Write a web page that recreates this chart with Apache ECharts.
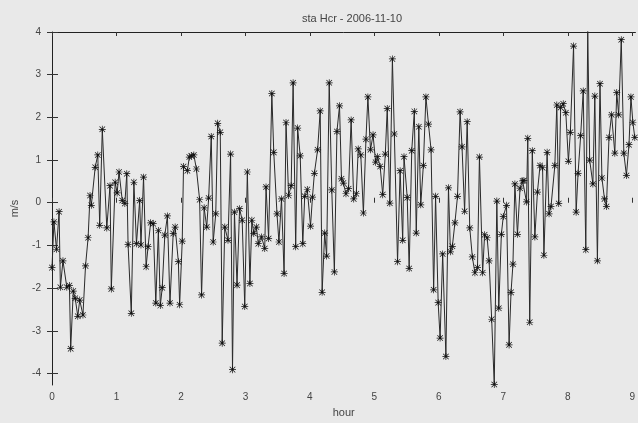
<!DOCTYPE html>
<html>
<head>
<meta charset="utf-8">
<script src="https://cdn.jsdelivr.net/npm/echarts@6/dist/echarts.min.js"></script>
<style>
html,body{margin:0;padding:0;background:#e9e9e9;}
#chart{width:638px;height:423px;}
</style>
</head>
<body>
<div id="chart"></div>
<script>
var titleText = 'sta Hcr - 2006-11-10';
var xName = 'hour';
var yName = 'm/s';
var xTicks = [0,1,2,3,4,5,6,7,8,9];
var yTicks = [-4,-3,-2,-1,0,1,2,3,4];

var hours = [
0.00,0.03,0.07,0.11,0.13,0.17,0.23,0.27,0.29,0.33,0.36,0.40,0.43,0.48,0.52,0.56,0.59,0.61,0.67,0.71,
0.74,0.78,0.85,0.90,0.92,0.98,1.01,1.04,1.09,1.13,1.16,1.18,1.23,1.27,1.31,1.36,1.38,1.42,1.46,1.49,
1.53,1.57,1.61,1.65,1.68,1.71,1.75,1.79,1.83,1.88,1.91,1.96,1.98,2.02,2.04,2.10,2.13,2.16,2.20,2.24,
2.29,2.32,2.36,2.40,2.43,2.47,2.50,2.54,2.57,2.61,2.64,2.68,2.73,2.77,2.80,2.83,2.87,2.91,2.95,2.99,
3.03,3.07,3.10,3.13,3.17,3.20,3.25,3.30,3.32,3.36,3.41,3.44,3.49,3.52,3.56,3.60,3.63,3.67,3.71,3.74,
3.78,3.81,3.85,3.89,3.92,3.96,4.01,4.04,4.07,4.12,4.16,4.19,4.23,4.26,4.30,4.34,4.38,4.42,4.46,4.49,
4.52,4.56,4.60,4.64,4.68,4.72,4.75,4.79,4.83,4.87,4.90,4.94,4.98,5.02,5.05,5.09,5.13,5.17,5.20,5.24,
5.28,5.31,5.36,5.40,5.44,5.46,5.51,5.54,5.58,5.62,5.65,5.69,5.72,5.76,5.80,5.84,5.88,5.92,5.95,5.99,
6.02,6.06,6.11,6.15,6.18,6.21,6.25,6.29,6.33,6.36,6.40,6.44,6.48,6.52,6.56,6.60,6.63,6.68,6.71,6.75,
6.78,6.82,6.86,6.90,6.93,6.97,7.00,7.05,7.09,7.12,7.15,7.18,7.22,7.26,7.30,7.32,7.36,7.38,7.41,7.45,
7.49,7.53,7.57,7.61,7.63,7.68,7.71,7.74,7.80,7.83,7.86,7.89,7.93,7.97,8.01,8.04,8.09,8.13,8.16,8.20,
8.24,8.28,8.31,8.34,8.39,8.42,8.46,8.50,8.53,8.57,8.60,8.64,8.68,8.73,8.76,8.79,8.83,8.87,8.91,8.95,
8.98,9.01,9.04
];

var speed = [
-1.52,-0.45,-1.09,-0.21,-1.98,-1.36,-1.98,-1.94,-3.42,-2.07,-2.24,-2.66,-2.28,-2.63,-1.48,-0.82,0.17,-0.06,0.83,1.12,
-0.53,1.72,-0.59,0.40,-2.02,0.48,0.23,0.72,0.05,-0.02,0.68,-0.98,-2.59,0.48,-0.96,0.05,-0.99,0.60,-1.50,-1.03,
-0.47,-0.49,-2.35,-0.65,-2.41,-1.99,-0.76,-0.31,-2.35,-0.72,-0.57,-1.38,-2.39,-0.90,0.85,0.75,1.07,1.10,1.12,0.79,
0.07,-2.16,-0.12,-0.57,0.11,1.55,-0.92,-0.26,1.86,1.65,-3.29,-0.57,-0.88,1.14,-3.91,-0.22,-1.93,-0.14,-0.41,-2.43,
0.72,-1.89,-0.41,-0.72,-0.57,-0.96,-0.80,-1.07,0.37,-0.84,2.56,1.18,-0.26,-0.92,0.09,-1.66,1.88,0.17,0.40,2.81,
-1.03,1.75,1.10,-0.96,0.15,0.31,-0.55,0.13,0.69,1.24,2.15,-2.10,-0.71,-1.25,2.81,0.30,-1.62,1.67,2.27,0.56,
0.46,0.21,0.33,1.94,0.09,0.21,1.26,1.12,-0.24,1.49,2.48,1.24,1.59,0.95,1.08,0.85,0.19,1.14,2.21,-0.01,
3.37,1.61,-1.38,0.75,-0.88,1.08,0.12,-1.54,1.22,2.14,-0.71,1.78,-0.05,0.87,2.48,1.84,1.24,-2.04,0.15,-2.34,
-3.17,-1.20,-3.60,0.35,-1.15,-1.02,-0.47,0.15,2.13,1.31,-0.20,1.90,-0.59,-1.27,-1.64,-1.52,1.07,-1.64,-0.75,-0.82,
-1.36,-2.73,-4.26,0.04,-2.47,-0.74,-0.32,-0.06,-3.33,-2.10,-1.44,0.44,-0.74,0.34,0.51,0.52,0.02,1.51,-2.80,1.22,
-0.80,0.25,0.87,0.82,-1.23,1.18,-0.26,-0.09,0.87,2.29,-0.02,2.23,2.32,2.11,0.97,1.65,3.67,-0.22,0.69,1.57,
2.62,-1.10,4.02,1.00,0.44,2.50,-1.36,2.79,0.58,0.09,-0.09,1.53,2.06,1.16,2.58,2.06,3.82,1.16,0.64,1.36,
2.48,1.88,1.53
];

var seriesData = hours.map(function(h, i){ return [h, speed[i]]; });

var asterisk = 'path://M4.5 0H5.5V10H4.5Z M0 4.5H10V5.5H0Z M0.7 1.4L1.4 0.7L9.3 8.6L8.6 9.3Z M8.6 0.7L9.3 1.4L1.4 9.3L0.7 8.6Z';

var txt = '#444';
var fontFam = 'Liberation Sans, DejaVu Sans, sans-serif';

var chart = echarts.init(document.getElementById('chart'), null, {renderer:'canvas'});
chart.setOption({
  backgroundColor: '#e9e9e9',
  animation: false,
  title: {
    text: titleText,
    left: 347, top: 8, textAlign: 'center',
    textStyle: {fontSize: 11, fontWeight: 'normal', color: txt, fontFamily: fontFam}
  },
  grid: {left: 52, right: 2, top: 32, bottom: 36, containLabel: false},
  xAxis: [{
    type: 'value', min: 0, max: 9.05, position: 'bottom',
    name: xName, nameLocation: 'middle', nameGap: 22,
    nameTextStyle: {fontSize: 11, color: txt, fontFamily: fontFam},
    axisLine: {show: false},
    axisTick: {show: true, inside: true, length: 5, customValues: xTicks, lineStyle: {color: '#333'}},
    axisLabel: {show: true, customValues: xTicks, margin: 7, fontSize: 10, color: txt, fontFamily: fontFam},
    splitLine: {show: false}
  }, {
    type: 'value', min: 0, max: 9.05, position: 'top',
    axisLine: {show: true, onZero: false, lineStyle: {color: '#222', width: 1}},
    axisTick: {show: true, inside: true, length: 4, customValues: xTicks, lineStyle: {color: '#333'}},
    axisLabel: {show: false},
    splitLine: {show: false}
  }],
  yAxis: [{
    type: 'value', min: -4.27, max: 4, position: 'left',
    name: yName, nameLocation: 'middle', nameGap: 32, nameRotate: 90,
    nameTextStyle: {fontSize: 11, color: txt, fontFamily: fontFam},
    axisLine: {show: true, onZero: false, lineStyle: {color: '#222', width: 1}},
    axisTick: {show: true, inside: true, length: 6, customValues: yTicks, lineStyle: {color: '#333'}},
    axisLabel: {show: true, customValues: yTicks, margin: 11, fontSize: 10, color: txt, fontFamily: fontFam},
    splitLine: {show: false}
  }, {
    type: 'value', min: -4.27, max: 4, position: 'right',
    axisLine: {show: false},
    axisTick: {show: true, inside: true, length: 5, customValues: yTicks, lineStyle: {color: '#333'}},
    axisLabel: {show: false},
    splitLine: {show: false}
  }],
  series: [{
    type: 'line',
    xAxisIndex: 0, yAxisIndex: 0,
    data: seriesData,
    symbol: asterisk,
    symbolSize: 7,
    showAllSymbol: true,
    clip: true,
    lineStyle: {color: '#2a2a2a', width: 1},
    itemStyle: {color: '#111'},
    emphasis: {disabled: true}
  }]
});
</script>
</body>
</html>
